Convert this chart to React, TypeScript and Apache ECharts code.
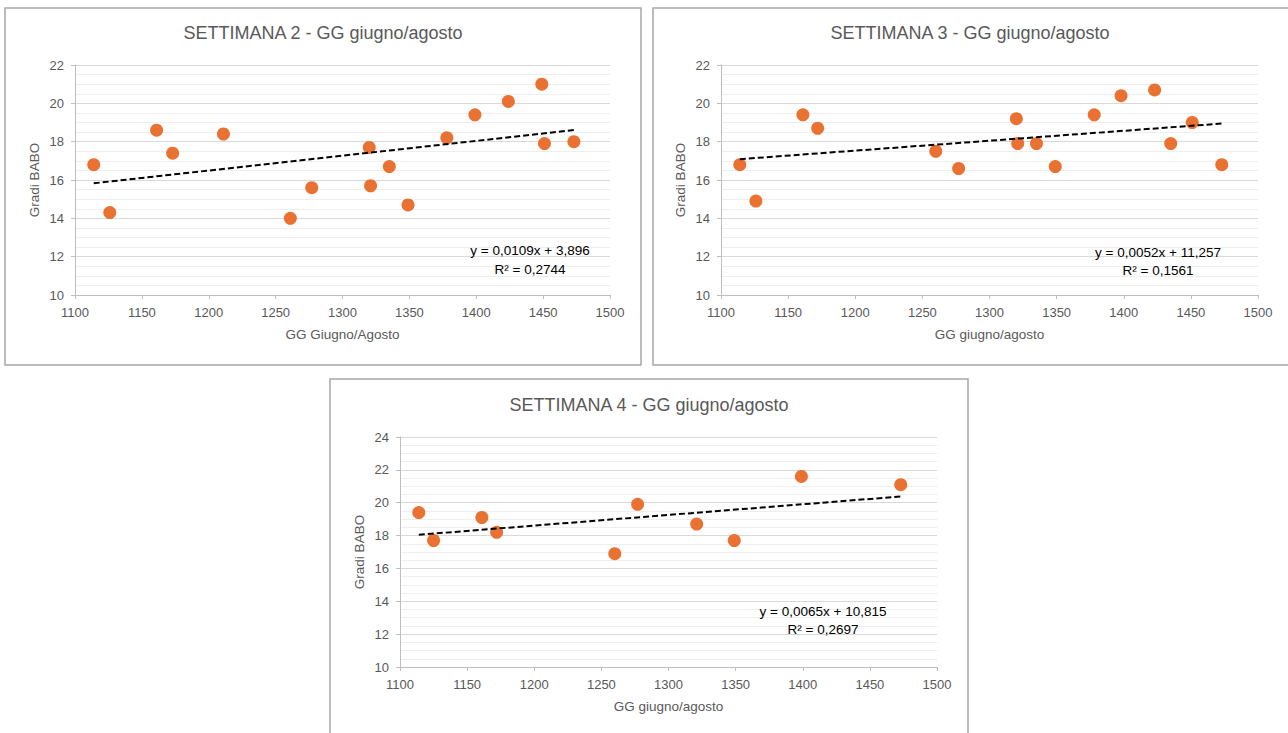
import React, { useEffect, useRef } from "react";
import * as echarts from "echarts";

// ---- data ----
const titles = [
  "SETTIMANA 2 - GG giugno/agosto",
  "SETTIMANA 3 - GG giugno/agosto",
  "SETTIMANA 4 - GG giugno/agosto",
];
const xNames = ["GG Giugno/Agosto", "GG giugno/agosto", "GG giugno/agosto"];
const yName = "Gradi BABO";
const equations = ["y = 0,0109x + 3,896", "y = 0,0052x + 11,257", "y = 0,0065x + 10,815"];
const r2Labels = ["R² = 0,2744", "R² = 0,1561", "R² = 0,2697"];

const x2 = [1114, 1126, 1161, 1173, 1211, 1261, 1277, 1320, 1321, 1335, 1349, 1378, 1399, 1424, 1449, 1451, 1473];
const y2 = [16.8, 14.3, 18.6, 17.4, 18.4, 14.0, 15.6, 17.7, 15.7, 16.7, 14.7, 18.2, 19.4, 20.1, 21.0, 17.9, 18.0];
const x3 = [1114, 1126, 1161, 1172, 1260, 1277, 1320, 1321, 1335, 1349, 1378, 1398, 1423, 1435, 1451, 1473];
const y3 = [16.8, 14.9, 19.4, 18.7, 17.5, 16.6, 19.2, 17.9, 17.9, 16.7, 19.4, 20.4, 20.7, 17.9, 19.0, 16.8];
const x4 = [1114, 1125, 1161, 1172, 1260, 1277, 1321, 1349, 1399, 1473];
const y4 = [19.4, 17.7, 19.1, 18.2, 16.9, 19.9, 18.7, 17.7, 21.6, 21.1];

const xMin = 1100, xMax = 1500, xStep = 50;
const yMins = [10, 10, 10];
const yMaxs = [22, 22, 24];
const yStep = 2;

const FONT = '"Liberation Sans", Arial, sans-serif';
const ORANGE = "#E97132";
const GRAY_TEXT = "#595959";

function fit(xs: number[], ys: number[]) {
  const n = xs.length;
  const mx = xs.reduce((a, b) => a + b, 0) / n;
  const my = ys.reduce((a, b) => a + b, 0) / n;
  let sxy = 0, sxx = 0;
  for (let i = 0; i < n; i++) {
    sxy += (xs[i] - mx) * (ys[i] - my);
    sxx += (xs[i] - mx) ** 2;
  }
  const b = sxy / sxx;
  const a = my - b * mx;
  const lo = Math.min(...xs), hi = Math.max(...xs);
  return [[lo, a + b * lo], [hi, a + b * hi]];
}

export default function App() {
  const ref = useRef<HTMLDivElement>(null);
  useEffect(() => {
    if (!ref.current) return;
    const chart = echarts.init(ref.current, null, { renderer: "svg" });
    const sets = [
      [x2, y2],
      [x3, y3],
      [x4, y4],
    ];
    const grids = [
      { left: 75, top: 65, width: 535, height: 230 },
      { left: 721, top: 65, width: 537, height: 230 },
      { left: 400, top: 437, width: 537, height: 230 },
    ];
    const boxes = [
      { x: 5, y: 8, w: 636, h: 357 },
      { x: 653, y: 8, w: 640, h: 357 },
      { x: 330, y: 379, w: 638, h: 380 },
    ];
    const titlePos = [
      [323, 33],
      [970, 33],
      [649, 405],
    ];
    const eqPos = [
      [530, 250, 269],
      [1158, 252, 270],
      [823, 611, 629],
    ];

    const xAxis = grids.map((_, i) => ({
      type: "value",
      gridIndex: i,
      min: xMin,
      max: xMax,
      interval: xStep,
      name: xNames[i],
      nameLocation: "middle",
      nameGap: 32,
      nameTextStyle: { color: GRAY_TEXT, fontSize: 13.5, fontFamily: FONT },
      axisLine: { show: true, lineStyle: { color: "#bfbfbf", width: 1 } },
      axisTick: { show: true, length: 4, lineStyle: { color: "#bfbfbf" } },
      axisLabel: {
        color: GRAY_TEXT,
        fontSize: 13,
        fontFamily: FONT,
        margin: 11,
        formatter: (v: number) => String(v),
      },
      splitLine: { show: false },
    }));
    const yAxis = grids.map((_, i) => ({
      type: "value",
      gridIndex: i,
      min: yMins[i],
      max: yMaxs[i],
      interval: yStep,
      name: yName,
      nameLocation: "middle",
      nameGap: 34,
      nameTextStyle: { color: GRAY_TEXT, fontSize: 13.5, fontFamily: FONT },
      axisLine: { show: true, lineStyle: { color: "#bfbfbf", width: 1 } },
      axisTick: { show: true, length: 4, lineStyle: { color: "#bfbfbf" } },
      axisLabel: {
        color: GRAY_TEXT,
        fontSize: 13,
        fontFamily: FONT,
        margin: 11,
        formatter: (v: number) => String(v),
      },
      splitLine: { show: true, lineStyle: { color: "#d9d9d9", width: 1 } },
      minorTick: { show: false, splitNumber: 4 },
      minorSplitLine: { show: true, lineStyle: { color: "#eeeeee", width: 1 } },
    }));

    const series: any[] = [];
    sets.forEach(([xs, ys], i) => {
      series.push({
        type: "scatter",
        xAxisIndex: i,
        yAxisIndex: i,
        symbol: "circle",
        symbolSize: 13,
        itemStyle: { color: ORANGE, opacity: 1 },
        data: xs.map((x, k) => [x, ys[k]]),
        z: 3,
      });
      series.push({
        type: "line",
        xAxisIndex: i,
        yAxisIndex: i,
        symbol: "none",
        silent: true,
        lineStyle: { color: "#000", width: 2, type: [6, 3] },
        data: fit(xs, ys),
        z: 4,
      });
    });

    const graphic: any[] = [];
    boxes.forEach((b) => {
      graphic.push({
        type: "rect",
        shape: { x: b.x, y: b.y, width: b.w, height: b.h },
        style: { fill: "none", stroke: "#a6a6a6", lineWidth: 1.5 },
        silent: true,
      });
    });
    titles.forEach((t, i) => {
      graphic.push({
        type: "text",
        x: titlePos[i][0],
        y: titlePos[i][1],
        style: {
          text: t,
          fill: GRAY_TEXT,
          fontSize: 18,
          fontFamily: FONT,
          textAlign: "center",
          textVerticalAlign: "middle",
        },
      });
    });
    equations.forEach((t, i) => {
      graphic.push({
        type: "text",
        x: eqPos[i][0],
        y: eqPos[i][1],
        style: { text: t, fill: "#000", fontSize: 13.5, fontFamily: FONT, textAlign: "center", textVerticalAlign: "middle" },
        z: 10,
      });
      graphic.push({
        type: "text",
        x: eqPos[i][0],
        y: eqPos[i][2],
        style: { text: r2Labels[i], fill: "#000", fontSize: 13.5, fontFamily: FONT, textAlign: "center", textVerticalAlign: "middle" },
        z: 10,
      });
    });

    chart.setOption({
      animation: false,
      backgroundColor: "#ffffff",
      grid: grids,
      xAxis,
      yAxis,
      series,
      graphic,
    });
    return () => chart.dispose();
  }, []);
  return (
    <div
      ref={ref}
      style={{ position: "absolute", left: 0, top: 0, width: 1288, height: 733 }}
    />
  );
}
